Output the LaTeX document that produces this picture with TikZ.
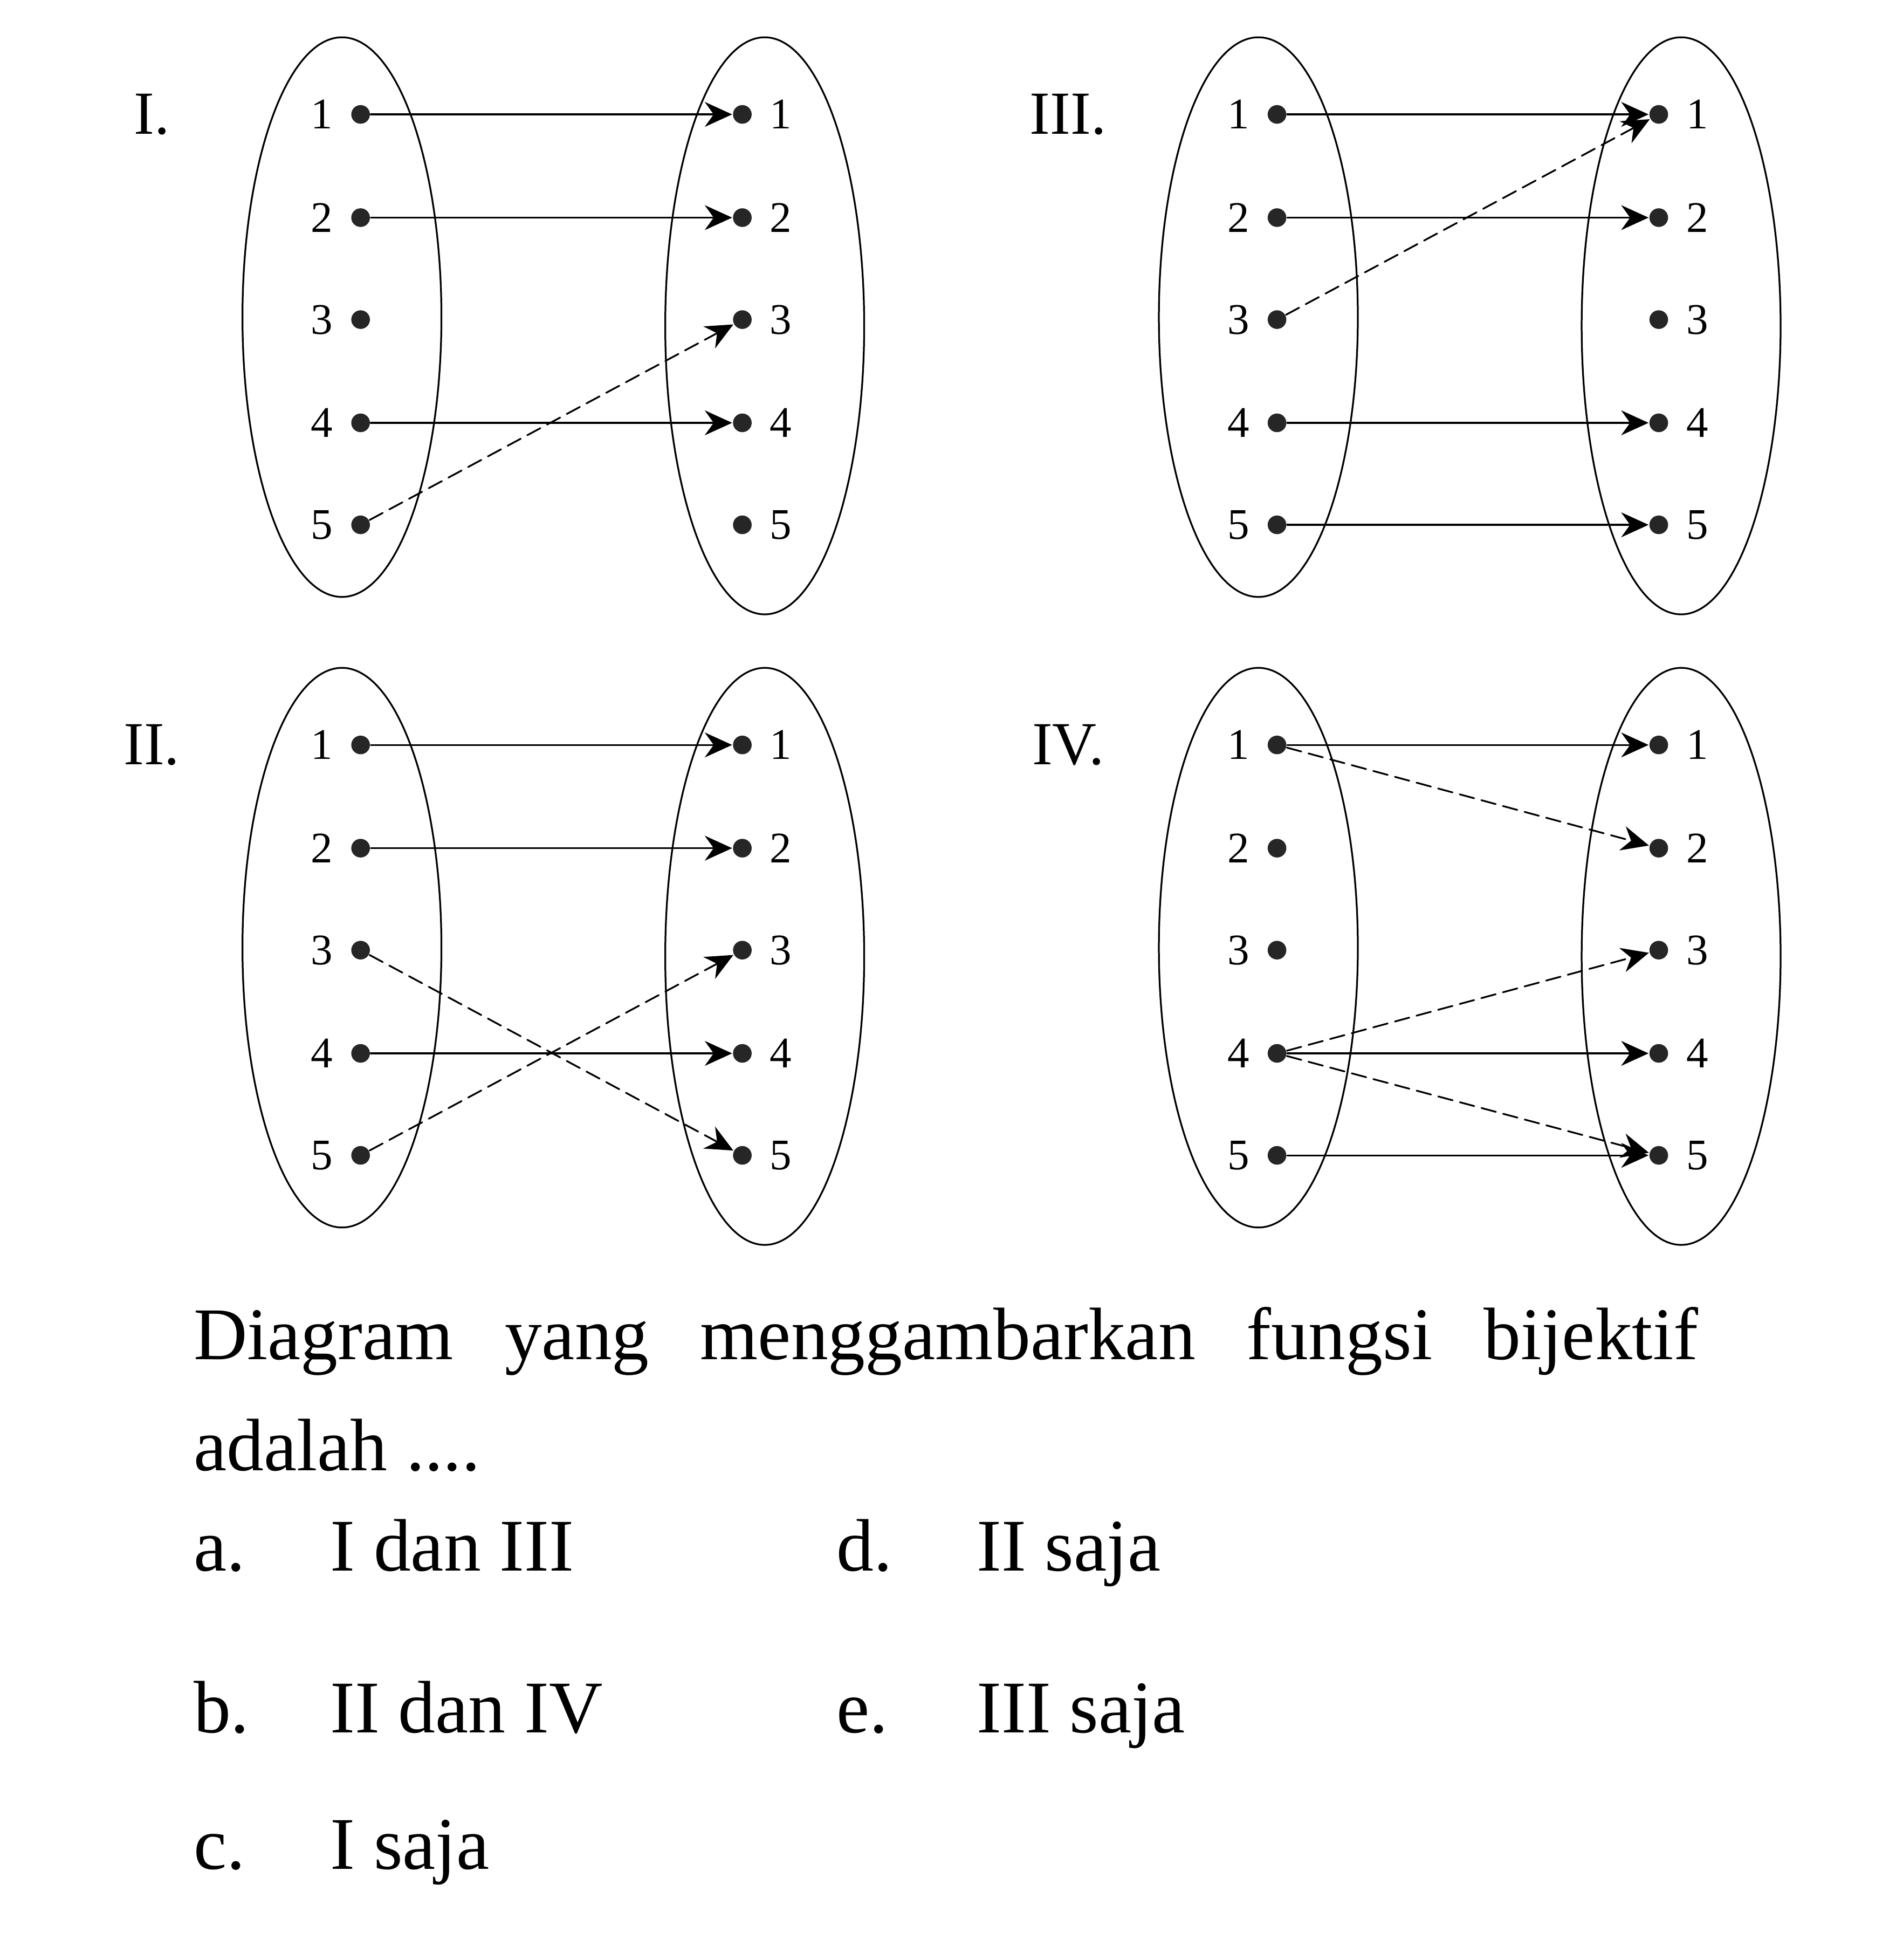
\documentclass[tikz,border=0pt]{standalone}
\usepackage{fontspec}
\setmainfont{Liberation Serif}
\usetikzlibrary{arrows.meta}
\tikzset{
  pt/.style={circle,fill=black!85,inner sep=0pt,minimum size=1.5mm},
  num/.style={font=\fontsize{10}{12}\selectfont},
  map/.style={-{Stealth[length=2.2mm,width=2mm]},thin},
  dmap/.style={map,dash pattern=on 1.2mm off 0.6mm},
  txt/.style={font=\fontsize{17}{20}\selectfont,anchor=base west,inner sep=0pt}
}
\begin{document}
\begin{tikzpicture}[x=0.1mm, y=-0.1mm, line cap=round, line join=round]
  \useasboundingbox (0,0) rectangle (1530,1576);

  % the four pairs of sets
  \foreach \d/\x/\y/\t in {A/0/0/I., B/737/0/III., C/0/507/II., D/737/507/IV.}{
    \begin{scope}[shift={(\x,\y)}]
      \node[font=\fontsize{14}{16}\selectfont] at (122,92) {\t};
      \draw (275,255) ellipse (80 and 225);
      \draw (615,262) ellipse (80 and 232);
      \foreach \i/\yy in {1/92,2/175,3/257,4/340,5/422}{
        \node[pt] (\d l\i) at (290,\yy) {};
        \node[num] at (259,\yy) {\i};
        \node[pt] (\d r\i) at (597,\yy) {};
        \node[num] at (628,\yy) {\i};
      }
    \end{scope}
  }

  % I
  \draw[map] (Al1) -- (Ar1);
  \draw[map] (Al2) -- (Ar2);
  \draw[map] (Al4) -- (Ar4);
  \draw[dmap] (Al5) -- (Ar3);

  % II
  \draw[map] (Cl1) -- (Cr1);
  \draw[map] (Cl2) -- (Cr2);
  \draw[map] (Cl4) -- (Cr4);
  \draw[dmap] (Cl3) -- (Cr5);
  \draw[dmap] (Cl5) -- (Cr3);

  % III
  \draw[map] (Bl1) -- (Br1);
  \draw[map] (Bl2) -- (Br2);
  \draw[map] (Bl4) -- (Br4);
  \draw[map] (Bl5) -- (Br5);
  \draw[dmap] (Bl3) -- (Br1);

  % IV
  \draw[map] (Dl1) -- (Dr1);
  \draw[dmap] (Dl1) -- (Dr2);
  \draw[dmap] (Dl4) -- (Dr3);
  \draw[map] (Dl4) -- (Dr4);
  \draw[dmap] (Dl4) -- (Dr5);
  \draw[map] (Dl5) -- (Dr5);

  % question
  \node[txt,font=\fontsize{17}{25.5}\selectfont,text width=121mm,align=justify] (q) at (155,1093)
    {Diagram yang menggambarkan fungsi bijektif adalah ....};
  \node[txt] (oa) at (155,1263) {a.};
  \node[txt] (ta) at (265,1263) {I dan III};
  \node[txt] (od) at (672,1263) {d.};
  \node[txt] (td) at (785,1263) {II saja};
  \node[txt] (ob) at (155,1393) {b.};
  \node[txt] (tb) at (265,1393) {II dan IV};
  \node[txt] (oe) at (672,1393) {e.};
  \node[txt] (te) at (785,1393) {III saja};
  \node[txt] (oc) at (155,1503) {c.};
  \node[txt] (tc) at (265,1503) {I saja};
\end{tikzpicture}
\end{document}
